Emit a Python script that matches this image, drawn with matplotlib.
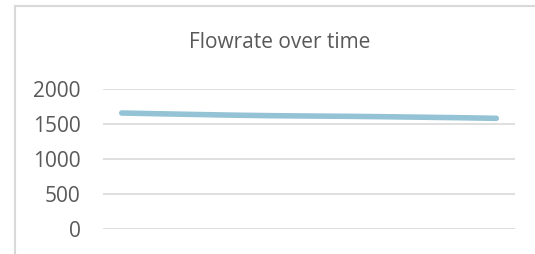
import matplotlib.pyplot as plt
from matplotlib.lines import Line2D

# data
time_idx = list(range(1, 12))
flowrate = [1657, 1646, 1636, 1626, 1619, 1614, 1610, 1604, 1597, 1590, 1581]
y_ticks = [0, 500, 1000, 1500, 2000]
title = 'Flowrate over time'

TEXT = '#595959'
GRID = '#D9D9D9'
LINE = '#93C3D5'

plt.rcParams['font.family'] = ['Open Sans', 'DejaVu Sans']

fig = plt.figure(figsize=(5.35, 2.54), dpi=100)
ax = fig.add_axes([103 / 535, 25 / 254, 412 / 535, 140 / 254])

ax.plot(time_idx, flowrate, color=LINE, lw=4, solid_capstyle='round')
ax.set_xlim(0.5, 11.5)
ax.set_ylim(0, 2000)
ax.set_yticks(y_ticks)
ax.set_xticks([])
ax.yaxis.grid(True, color=GRID, lw=1.2)
ax.set_axisbelow(True)
ax.tick_params(axis='y', length=0, pad=16, labelsize=15, labelcolor=TEXT)
for s in ax.spines.values():
    s.set_visible(False)

fig.text(280 / 535, 1 - 42 / 254, title, ha='center', va='center',
         fontsize=15, color=TEXT)

# chart frame (left and top edges visible)
fig.add_artist(Line2D([14.5 / 535, 14.5 / 535], [0, 1 - 6 / 254],
                      transform=fig.transFigure, color=GRID, lw=1.5))
fig.add_artist(Line2D([14.5 / 535, 1], [1 - 6 / 254, 1 - 6 / 254],
                      transform=fig.transFigure, color=GRID, lw=1.5))

fig.savefig('out.png', dpi=100)
